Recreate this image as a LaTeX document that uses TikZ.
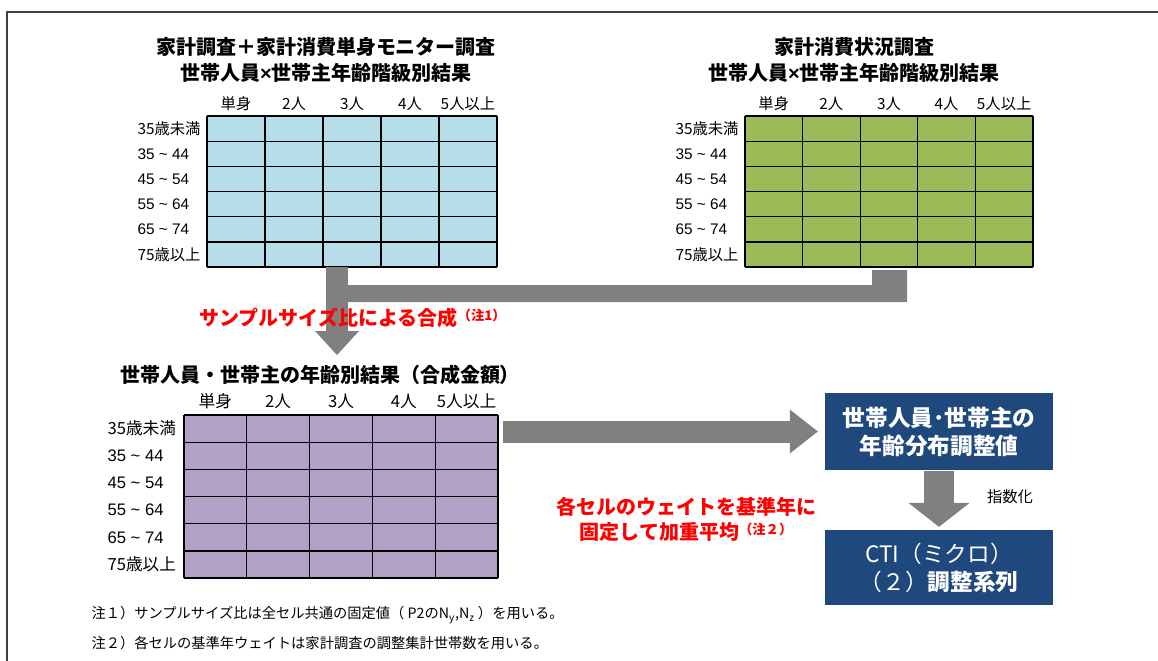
\documentclass[tikz,border=0pt]{standalone}
\usepackage{fontspec}
\setmainfont{Noto Sans CJK JP}
\newfontfamily\arialfont{Liberation Sans}
\usetikzlibrary{arrows.meta}

\definecolor{cellblue}{RGB}{183,221,232}
\definecolor{cellgreen}{RGB}{155,187,89}
\definecolor{cellpurple}{RGB}{178,161,199}
\definecolor{arrowgray}{RGB}{128,128,128}
\definecolor{boxblue}{RGB}{31,73,125}
\definecolor{framegray}{RGB}{64,64,64}

\tikzset{
	title text/.style={font=\fontsize{15}{19.5}\selectfont\bfseries, align=center, inner sep=0pt},
	red text/.style={text=red, font=\fontsize{15}{18.75}\selectfont\bfseries, align=center, inner sep=0pt},
	cell label/.style={font=\fontsize{11.5}{13}\selectfont, inner sep=0pt},
	big label/.style={font=\fontsize{12.5}{14}\selectfont, inner sep=0pt},
	note text/.style={font=\fontsize{10.7}{12}\selectfont, anchor=west, inner sep=0pt},
	result box/.style={fill=boxblue, text=white, font=\fontsize{17}{21}\selectfont, align=center, minimum width=171pt, inner sep=0pt},
	grid line/.style={line width=1pt},
	thin arrow/.style={draw=arrowgray, line width=16.5pt, -{Triangle[length=#1, width=33pt, line width=0pt]}},
	thick arrow/.style={draw=arrowgray, line width=22.5pt, -{Triangle[length=18pt, width=46pt, line width=0pt]}}
}
\tikzset{every picture/.style={line width=0.75pt}}

\begin{document}
\begin{tikzpicture}[x=0.75pt,y=0.75pt,yscale=-1,xscale=1]
	\useasboundingbox (0,0) rectangle (1158,661);

	%Shape: Frame
	\draw [color=framegray, line width=1.5pt] (7,661) -- (7,12) -- (1158,12) ;

	% Text Node
	\node [title text] (title1) at (326,60) {家計調査＋家計消費単身モニター調査\\世帯人員{\arialfont ×}世帯主年齢階級別結果};
	% Text Node
	\node [title text] (title2) at (854,60) {家計消費状況調査\\世帯人員{\arialfont ×}世帯主年齢階級別結果};

	%Shape: Table 1
	\fill [cellblue] (207,116) rectangle (497,267) ;
	\foreach \i in {0,...,5} {\draw [grid line] (207+58*\i,116) -- (207+58*\i,267) ;}
	\foreach \j in {0,...,6} {\draw [grid line] (207,116+25.17*\j) -- (497,116+25.17*\j) ;}
	\foreach \t [count=\i from 0] in {単身,2人,3人,4人,5人以上} {\node [cell label] (headA\i) at (236+58*\i,104) {\t} ;}
	\foreach \t [count=\j from 0] in {35歳未満,{\arialfont 35 \textasciitilde\ 44},{\arialfont 45 \textasciitilde\ 54},{\arialfont 55 \textasciitilde\ 64},{\arialfont 65 \textasciitilde\ 74},75歳以上} {\node [cell label, anchor=west] (rowA\j) at (137,128.6+25.17*\j) {\t} ;}

	%Shape: Table 2
	\fill [cellgreen] (745,116) rectangle (1033,267) ;
	\foreach \i in {0,...,5} {\draw [grid line] (745+57.6*\i,116) -- (745+57.6*\i,267) ;}
	\foreach \j in {0,...,6} {\draw [grid line] (745,116+25.17*\j) -- (1033,116+25.17*\j) ;}
	\foreach \t [count=\i from 0] in {単身,2人,3人,4人,5人以上} {\node [cell label] (headB\i) at (773.8+57.6*\i,104) {\t} ;}
	\foreach \t [count=\j from 0] in {35歳未満,{\arialfont 35 \textasciitilde\ 44},{\arialfont 45 \textasciitilde\ 54},{\arialfont 55 \textasciitilde\ 64},{\arialfont 65 \textasciitilde\ 74},75歳以上} {\node [cell label, anchor=west] (rowB\j) at (675,128.6+25.17*\j) {\t} ;}

	%Shape: Merge Bar
	\fill [arrowgray] (340,285) -- (872,285) -- (872,270) -- (907,270) -- (907,302) -- (340,302) -- cycle ;
	%Straight Lines
	\coordinate (outA) at (337,267) ;
	\coordinate (inC) at (337,355) ;
	\draw [thin arrow=18pt] (outA) -- (inC) ;

	% Text Node
	\node [red text, anchor=west] (mixnote) at (199,318) {サンプルサイズ比による合成\raisebox{4pt}{\fontsize{10}{10}\selectfont（注1）}};

	% Text Node
	\node [title text] (title3) at (320,375) {世帯人員・世帯主の年齢別結果（合成金額）};

	%Shape: Table 3
	\fill [cellpurple] (184,415) rectangle (498,578) ;
	\foreach \i in {0,...,5} {\draw [grid line] (184+62.8*\i,415) -- (184+62.8*\i,578) ;}
	\foreach \j in {0,...,6} {\draw [grid line] (184,415+27.17*\j) -- (498,415+27.17*\j) ;}
	\foreach \t [count=\i from 0] in {単身,2人,3人,4人,5人以上} {\node [big label] (headC\i) at (215.4+62.8*\i,401) {\t} ;}
	\foreach \t [count=\j from 0] in {35歳未満,{\arialfont 35 \textasciitilde\ 44},{\arialfont 45 \textasciitilde\ 54},{\arialfont 55 \textasciitilde\ 64},{\arialfont 65 \textasciitilde\ 74},75歳以上} {\node [big label, anchor=west] (rowC\j) at (107,428.6+27.17*\j) {\t} ;}

	% Text Node
	\node [result box, minimum height=57.75pt] (adjust) at (939,431.5) {\bfseries 世帯人員･世帯主の\\\bfseries 年齢分布調整値};
	% Text Node
	\node [result box, minimum height=56.25pt] (cti) at (939,567.5) {CTI（ミクロ）\\（２）\textbf{調整系列}};

	%Straight Lines
	\coordinate (outC) at (503,431.5) ;
	\draw [thin arrow=21pt] (outC) -- ([xshift=-5pt]adjust.west) ;
	%Straight Lines
	\draw [thick arrow] (adjust.south) -- ([yshift=-2pt]cti.north) ;

	% Text Node
	\node [cell label] (index) at (1010,497) {指数化};
	% Text Node
	\node [red text] (weightnote) at (686,519.5) {各セルのウェイトを基準年に\\固定して加重平均\raisebox{4pt}{\fontsize{10}{10}\selectfont（注２）}};

	% Text Node
	\node [note text] (noteA) at (91,615) {注１）サンプルサイズ比は全セル共通の固定値（ P2のN\textsubscript{y},N\textsubscript{z} ）を用いる。};
	% Text Node
	\node [note text] (noteB) at (91,643) {注２）各セルの基準年ウェイトは家計調査の調整集計世帯数を用いる。};

\end{tikzpicture}
\end{document}
